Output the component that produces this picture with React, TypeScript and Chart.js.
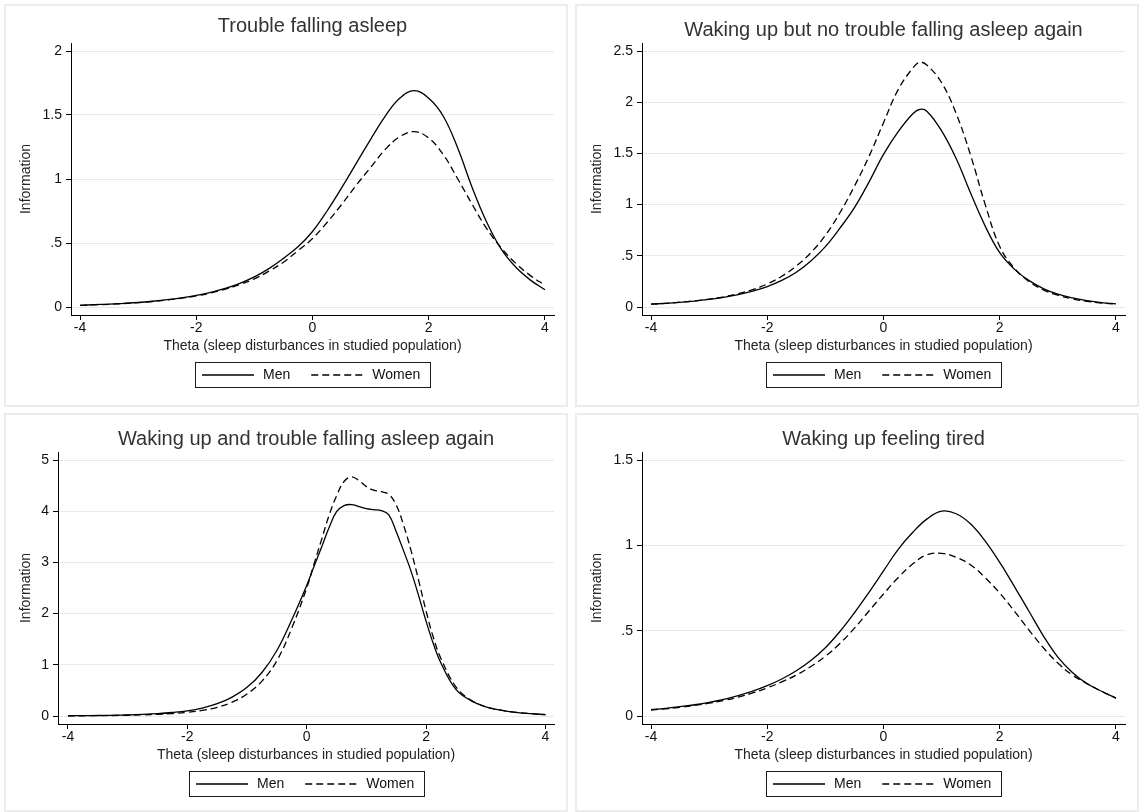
import React, { useEffect, useRef } from 'react';
import { Chart, registerables } from 'chart.js';

Chart.register(...registerables);

// ---------------- DATA ----------------
const SERIES_LABELS = ['Men', 'Women'];
const X_TITLE = 'Theta (sleep disturbances in studied population)';
const Y_TITLE = 'Information';
const X_TICKS = [-4, -2, 0, 2, 4];

const TITLE_1 = 'Trouble falling asleep';
const TITLE_2 = 'Waking up but no trouble falling asleep again';
const TITLE_3 = 'Waking up and trouble falling asleep again';
const TITLE_4 = 'Waking up feeling tired';

const Y_TICKS_1 = [0, 0.5, 1, 1.5, 2];
const Y_TICKS_2 = [0, 0.5, 1, 1.5, 2, 2.5];
const Y_TICKS_3 = [0, 1, 2, 3, 4, 5];
const Y_TICKS_4 = [0, 0.5, 1, 1.5];

// theta grid for panels 1 and 4
const THETA_A = [-4, -3.75, -3.5, -3.25, -3, -2.75, -2.5, -2.25, -2, -1.75, -1.5, -1.25, -1, -0.75, -0.5, -0.25,
  0, 0.25, 0.5, 0.75, 1, 1.25, 1.5, 1.75, 2, 2.25, 2.5, 2.75, 3, 3.25, 3.5, 3.75, 4];
// theta grid for panel 2
const THETA_B = [-4, -3.75, -3.5, -3.25, -3, -2.75, -2.5, -2.25, -2, -1.75, -1.5, -1.25, -1, -0.75, -0.5, -0.25,
  0, 0.25, 0.5, 0.625, 0.75, 1, 1.25, 1.5, 1.75, 2, 2.25, 2.5, 2.75, 3, 3.25, 3.5, 3.75, 4];
// theta grid for panel 3
const THETA_C = [-4, -3.75, -3.5, -3.25, -3, -2.75, -2.5, -2.25, -2, -1.75, -1.5, -1.25, -1, -0.75, -0.5, -0.25,
  0, 0.125, 0.25, 0.375, 0.5, 0.625, 0.75, 0.875, 1, 1.125, 1.25, 1.375, 1.5, 1.625, 1.75, 1.875, 2, 2.125, 2.25,
  2.5, 2.75, 3, 3.25, 3.5, 3.75, 4];

// Panel 1: Trouble falling asleep
const MEN_1 = [0.013, 0.018, 0.022, 0.028, 0.035, 0.045, 0.057, 0.072, 0.09, 0.115, 0.145, 0.185, 0.235, 0.30, 0.38, 0.47,
  0.59, 0.75, 0.93, 1.12, 1.31, 1.49, 1.63, 1.69, 1.63, 1.49, 1.24, 0.93, 0.66, 0.45, 0.31, 0.21, 0.135];
const WOMEN_1 = [0.013, 0.017, 0.021, 0.027, 0.034, 0.043, 0.055, 0.069, 0.087, 0.11, 0.14, 0.175, 0.22, 0.28, 0.35, 0.44,
  0.535, 0.66, 0.80, 0.95, 1.09, 1.23, 1.33, 1.37, 1.32, 1.19, 1.00, 0.80, 0.61, 0.46, 0.34, 0.245, 0.17];

// Panel 2: Waking up but no trouble falling asleep again
const MEN_2 = [0.028, 0.036, 0.046, 0.058, 0.074, 0.094, 0.12, 0.155, 0.20, 0.26, 0.34, 0.45, 0.59, 0.77, 0.97, 1.22,
  1.49, 1.71, 1.885, 1.93, 1.91, 1.72, 1.45, 1.11, 0.79, 0.53, 0.37, 0.26, 0.18, 0.125, 0.088, 0.062, 0.043, 0.03];
const WOMEN_2 = [0.028, 0.036, 0.047, 0.06, 0.077, 0.10, 0.13, 0.17, 0.225, 0.30, 0.40, 0.53, 0.70, 0.92, 1.18, 1.47,
  1.80, 2.12, 2.33, 2.39, 2.36, 2.19, 1.89, 1.48, 1.00, 0.59, 0.38, 0.25, 0.168, 0.115, 0.08, 0.056, 0.039, 0.027];

// Panel 3: Waking up and trouble falling asleep again
const MEN_3 = [0.005, 0.007, 0.01, 0.014, 0.02, 0.03, 0.045, 0.068, 0.10, 0.155, 0.24, 0.37, 0.56, 0.85, 1.28, 1.88,
  2.55, 2.93, 3.30, 3.68, 3.99, 4.11, 4.13, 4.09, 4.05, 4.03, 4.01, 3.93, 3.60, 3.22, 2.82, 2.35, 1.85, 1.40, 1.03,
  0.52, 0.30, 0.18, 0.115, 0.072, 0.045, 0.028];
const WOMEN_3 = [0.003, 0.005, 0.007, 0.01, 0.015, 0.022, 0.032, 0.048, 0.072, 0.11, 0.17, 0.27, 0.43, 0.68, 1.08, 1.72,
  2.50, 2.98, 3.45, 3.92, 4.30, 4.58, 4.67, 4.60, 4.48, 4.41, 4.38, 4.33, 4.12, 3.72, 3.22, 2.65, 2.05, 1.52, 1.12,
  0.57, 0.31, 0.18, 0.115, 0.072, 0.045, 0.028];

// Panel 4: Waking up feeling tired
const MEN_4 = [0.037, 0.045, 0.055, 0.066, 0.08, 0.098, 0.12, 0.146, 0.178, 0.217, 0.265, 0.325, 0.40, 0.495, 0.605, 0.725,
  0.85, 0.975, 1.075, 1.155, 1.20, 1.185, 1.125, 1.025, 0.90, 0.76, 0.615, 0.47, 0.345, 0.255, 0.19, 0.145, 0.105];
const WOMEN_4 = [0.035, 0.042, 0.051, 0.062, 0.075, 0.091, 0.11, 0.135, 0.165, 0.20, 0.24, 0.29, 0.35, 0.425, 0.515, 0.615,
  0.715, 0.81, 0.89, 0.945, 0.953, 0.93, 0.885, 0.81, 0.72, 0.615, 0.505, 0.40, 0.31, 0.24, 0.19, 0.145, 0.105];

// ---------------- LAYOUT ----------------
const FONT = '"Liberation Sans", Arial, Helvetica, sans-serif';
Chart.defaults.font.family = FONT;

const PANEL_DATA = [
  { title: TITLE_1, theta: THETA_A, men: MEN_1, women: WOMEN_1, yTicks: Y_TICKS_1 },
  { title: TITLE_2, theta: THETA_B, men: MEN_2, women: WOMEN_2, yTicks: Y_TICKS_2 },
  { title: TITLE_3, theta: THETA_C, men: MEN_3, women: WOMEN_3, yTicks: Y_TICKS_3 },
  { title: TITLE_4, theta: THETA_A, men: MEN_4, women: WOMEN_4, yTicks: Y_TICKS_4 },
];

const PANEL_LAYOUT = [
  { left: 4, top: 4, w: 564, h: 403, plotLeft: 67, titlePadTop: 10, xMin: -4.155, xMax: 4.155 },
  { left: 575, top: 4, w: 564, h: 403, plotLeft: 67, titlePadTop: 14.5, xMin: -4.155, xMax: 4.155 },
  { left: 4, top: 413, w: 564, h: 399, plotLeft: 54, titlePadTop: 14, xMin: -4.167, xMax: 4.143 },
  { left: 575, top: 413, w: 564, h: 399, plotLeft: 67, titlePadTop: 14, xMin: -4.155, xMax: 4.155 },
];
const PLOT_RIGHT = 550;
const PLOT_TOP = 39;
const PLOT_BOTTOM = 311;
const X_SCALE_H = 48;

const fmtY = (v: number) => {
  let s = String(Math.round(v * 100) / 100);
  if (s.startsWith('0.')) s = s.slice(1);
  return s;
};

const stataLegend = {
  id: 'stataLegend',
  afterDraw(chart: any) {
    const { ctx, chartArea } = chart;
    const xs = chart.scales.x;
    const top = Math.round(xs.bottom) - 1;
    const h = 25;
    ctx.save();
    ctx.font = `14px ${FONT}`;
    const items = chart.data.datasets.map((ds: any) => ({
      label: ds.label,
      dash: ds.borderDash || [],
      w: ctx.measureText(ds.label).width,
    }));
    const lineW = 52;
    let total = 7;
    items.forEach((it: any, i: number) => {
      total += lineW + 9 + it.w + (i < items.length - 1 ? 21 : 10);
    });
    total = Math.round(total);
    const left = Math.round((chartArea.left + chartArea.right) / 2 - total / 2);
    ctx.strokeStyle = '#1a1a1a';
    ctx.lineWidth = 1;
    ctx.setLineDash([]);
    ctx.strokeRect(left + 0.5, top + 0.5, total, h);
    const cy = top + h / 2 + 0.5;
    let x = left + 7;
    items.forEach((it: any) => {
      ctx.beginPath();
      ctx.setLineDash(it.dash);
      ctx.lineWidth = 1.3;
      ctx.strokeStyle = '#000';
      ctx.moveTo(x, cy);
      ctx.lineTo(x + lineW, cy);
      ctx.stroke();
      ctx.setLineDash([]);
      x += lineW + 9;
      ctx.fillStyle = '#111';
      ctx.textAlign = 'left';
      ctx.textBaseline = 'middle';
      ctx.fillText(it.label, x, cy);
      x += it.w + 21;
    });
    ctx.restore();
  },
};

function Panel({ idx }: { idx: number }) {
  const ref = useRef<HTMLCanvasElement | null>(null);
  const L = PANEL_LAYOUT[idx];
  useEffect(() => {
    const D = PANEL_DATA[idx];
    const yTop = D.yTicks[D.yTicks.length - 1];
    const yPad = yTop * (8 / 256);
    const lineCommon = {
      borderColor: '#000',
      borderWidth: 1.3,
      pointRadius: 0,
      fill: false,
      tension: 0.4,
      cubicInterpolationMode: 'default',
    };
    const chart = new Chart(ref.current as HTMLCanvasElement, {
      type: 'line',
      data: {
        datasets: [
          {
            ...lineCommon,
            label: SERIES_LABELS[0],
            data: D.theta.map((x, i) => ({ x, y: D.men[i] })),
          },
          {
            ...lineCommon,
            label: SERIES_LABELS[1],
            data: D.theta.map((x, i) => ({ x, y: D.women[i] })),
            borderDash: [7, 4],
          },
        ],
      },
      options: {
        responsive: false,
        animation: false,
        events: [],
        layout: {
          padding: { left: 0, top: 0, right: L.w - PLOT_RIGHT, bottom: L.h - PLOT_BOTTOM - X_SCALE_H },
        },
        plugins: {
          legend: { display: false },
          tooltip: { enabled: false },
          title: {
            display: true,
            text: D.title,
            fullSize: false,
            color: '#333',
            font: { size: 20, weight: 'normal', family: FONT, lineHeight: 1.2 },
            padding: { top: L.titlePadTop, bottom: PLOT_TOP - 24 - L.titlePadTop },
          },
        },
        scales: {
          x: {
            type: 'linear',
            min: L.xMin,
            max: L.xMax,
            afterBuildTicks: (s: any) => { s.ticks = X_TICKS.map((v) => ({ value: v })); },
            afterFit: (s: any) => { s.height = X_SCALE_H; },
            grid: { display: true, drawOnChartArea: false, drawTicks: true, tickLength: 5, tickColor: '#000', tickWidth: 1 },
            border: { display: true, color: '#000', width: 1 },
            ticks: {
              autoSkip: false, maxRotation: 0, padding: 0, color: '#111',
              font: { size: 14, family: FONT },
              callback: (v: any) => String(v),
            },
            title: {
              display: true, text: X_TITLE, color: '#222',
              font: { size: 14, family: FONT, lineHeight: 1.2 },
              padding: { top: 0, bottom: 8 },
            },
          },
          y: {
            type: 'linear',
            min: -yPad,
            max: yTop + yPad,
            afterBuildTicks: (s: any) => { s.ticks = D.yTicks.map((v) => ({ value: v })); },
            afterFit: (s: any) => { s.width = L.plotLeft; },
            grid: { display: true, drawOnChartArea: true, color: '#e9e9e9', lineWidth: 1, drawTicks: true, tickLength: 5, tickColor: '#000', tickWidth: 1 },
            border: { display: true, color: '#000', width: 1 },
            ticks: {
              autoSkip: false, padding: 4, color: '#111',
              font: { size: 14, family: FONT },
              callback: (v: any) => fmtY(Number(v)),
            },
            title: {
              display: true, text: Y_TITLE, color: '#222',
              font: { size: 14, family: FONT, lineHeight: 1.2 },
              padding: { top: 13.6, bottom: 0 },
            },
          },
        },
      } as any,
      plugins: [stataLegend],
    });
    return () => chart.destroy();
  }, [idx]);
  return (
    <div
      style={{
        position: 'absolute', left: L.left, top: L.top, width: L.w, height: L.h,
        boxSizing: 'border-box', border: '2px solid #ececec', background: '#fff',
      }}
    >
      <canvas
        ref={ref}
        width={L.w}
        height={L.h}
        style={{ position: 'absolute', left: -2, top: -2, width: L.w, height: L.h, display: 'block' }}
      />
    </div>
  );
}

export default function App() {
  return (
    <div style={{ position: 'absolute', left: 0, top: 0, width: 1142, height: 812, background: '#fff', overflow: 'hidden' }}>
      {PANEL_DATA.map((_, i) => <Panel key={i} idx={i} />)}
    </div>
  );
}
